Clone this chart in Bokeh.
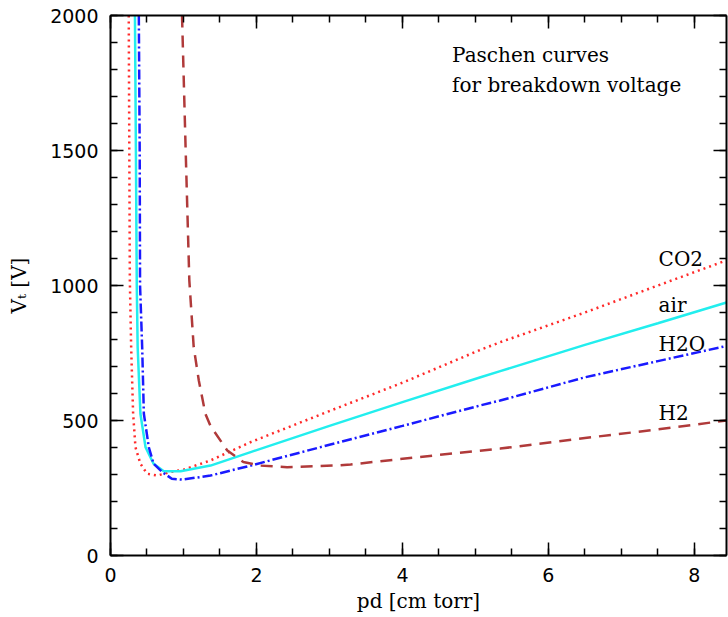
from bokeh.plotting import figure
from bokeh.models import LinearAxis, Range1d, Label, SingleIntervalTicker
from bokeh.embed import file_html
from bokeh.resources import INLINE

# ---- data ----
co2_pd = [0.25, 0.265, 0.283, 0.31, 0.342, 0.41, 0.50, 0.64, 0.82, 1.0, 1.37, 1.92, 3.0, 4.0, 5.07, 5.34, 6.5, 7.5, 8.44]
co2_v = [2000, 1019, 772, 525, 401, 340, 303, 296, 309, 318, 352, 420, 535, 640, 762, 790, 900, 1000, 1093]

air_pd = [0.335, 0.348, 0.36, 0.372, 0.41, 0.48, 0.59, 0.73, 0.96, 1.37, 1.92, 3.0, 4.0, 5.07, 5.34, 6.5, 7.5, 8.44]
air_v = [2000, 1500, 1000, 772, 525, 401, 340, 312, 312, 333, 383, 480, 568, 660, 683, 780, 860, 937]

h2o_pd = [0.388, 0.40, 0.405, 0.434, 0.457, 0.525, 0.59, 0.71, 0.84, 0.98, 1.37, 1.92, 3.0, 4.0, 5.07, 5.34, 6.5, 7.5, 8.44]
h2o_v = [2000, 1500, 1000, 772, 525, 401, 340, 309, 284, 281, 296, 333, 410, 480, 556, 574, 660, 720, 776]

h2_pd = [0.98, 1.03, 1.08, 1.14, 1.21, 1.30, 1.37, 1.60, 1.82, 2.05, 2.42, 3.05, 3.29, 4.2, 5.34, 6.5, 7.5, 8.44]
h2_v = [2000, 1500, 1019, 772, 648, 525, 480, 389, 346, 333, 327, 333, 337, 364, 396, 435, 467, 500]

gas_names = ["CO2", "air", "H2O", "H2"]
title_lines = ["Paschen curves", "for breakdown voltage"]
x_label = "pd [cm torr]"
y_label = "V\u209c [V]"

p = figure(width=728, height=617, x_range=Range1d(0, 8.44), y_range=Range1d(0, 2000),
           output_backend="svg", toolbar_location=None,
           min_border_left=110, min_border_right=2, min_border_top=15, min_border_bottom=62)
p.grid.visible = False
p.outline_line_color = None
p.background_fill_color = "white"
p.border_fill_color = "white"

top = LinearAxis()
right = LinearAxis()
p.add_layout(top, "above")
p.add_layout(right, "right")

for ax in p.xaxis:
    ax.ticker = SingleIntervalTicker(interval=2, num_minor_ticks=4)
for ax in p.yaxis:
    ax.ticker = SingleIntervalTicker(interval=500, num_minor_ticks=5)

for ax in p.xaxis + p.yaxis:
    ax.axis_line_width = 2
    ax.axis_line_color = "black"
    ax.major_tick_in = 13
    ax.major_tick_out = 0
    ax.minor_tick_in = 7
    ax.minor_tick_out = 0
    ax.major_tick_line_width = 1.5
    ax.minor_tick_line_width = 1.5
    ax.major_tick_line_color = "black"
    ax.minor_tick_line_color = "black"
    ax.major_label_text_font = "DejaVu Sans"
    ax.major_label_text_font_size = "19px"
    ax.major_label_text_color = "black"
    ax.major_label_standoff = 12
    ax.axis_label_text_font = "DejaVu Serif"
    ax.axis_label_text_font_size = "20px"
    ax.axis_label_text_font_style = "normal"
    ax.axis_label_text_color = "black"

for ax in (top, right):
    ax.major_label_text_font_size = "1px"
    ax.major_label_text_alpha = 0
    ax.major_label_standoff = 0
    ax.axis_label = None

p.xaxis[0].axis_label = x_label if p.xaxis[0] is not top else None
p.below[0].axis_label = x_label
p.below[0].axis_label_standoff = 4
p.left[0].axis_label = y_label
p.left[0].axis_label_standoff = 16

p.line(co2_pd, co2_v, line_color="#ff2a2a", line_width=2.5, line_dash="2 4")
p.line(air_pd, air_v, line_color="#22eeee", line_width=2.5)
p.line(h2o_pd, h2o_v, line_color="#1a1aff", line_width=2.5, line_dash="10 3 2 3")
p.line(h2_pd, h2_v, line_color="#b03a3a", line_width=2.5, line_dash="12 8")

label_y = [1100, 926, 785, 526]
for name, yy in zip(gas_names, label_y):
    p.add_layout(Label(x=7.51, y=yy, text=name, text_font="DejaVu Serif", text_font_size="20px",
                       text_baseline="middle", text_align="left", text_color="black"))

for line, yy in zip(title_lines, [1852, 1744]):
    p.add_layout(Label(x=4.68, y=yy, text=line, text_font="DejaVu Serif", text_font_size="20px",
                       text_baseline="middle", text_align="left", text_color="black"))

open("out.html", "w").write(file_html(p, INLINE))
